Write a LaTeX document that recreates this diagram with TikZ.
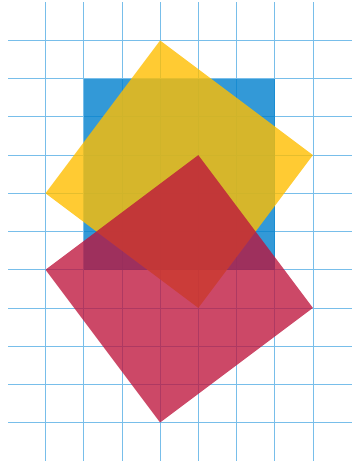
\documentclass[tikz,border=0pt]{standalone}
\definecolor{gridblue}{RGB}{120,190,234}
\definecolor{sqblue}{RGB}{0,128,205}
\definecolor{sqyellow}{RGB}{255,190,0}
\definecolor{sqred}{RGB}{190,20,60}
\tikzset{
  gridline/.style={draw=gridblue, line width=0.8pt},
  bluesq/.style={fill=sqblue, fill opacity=0.8},
  yellowsq/.style={fill=sqyellow, fill opacity=0.8},
  redsq/.style={fill=sqred, fill opacity=0.78}
}
\begin{document}
\begin{tikzpicture}
\useasboundingbox (0pt,0pt) rectangle (356pt,-462pt);
\begin{scope}[shift={(45.5pt,-40.5pt)}, x=38.2pt, y=-38.2pt]
  \foreach \i in {0,...,7} \draw[gridline] (\i,-1.0) -- (\i,11.0);
  \foreach \j in {0,...,10} \draw[gridline] (-0.98,\j) -- (8.02,\j);
  \fill[bluesq] (1,1) rectangle (6,6);
  \fill[yellowsq] (3,0) -- (7,3) -- (4,7) -- (0,4) -- cycle;
  \fill[redsq] (4,3) -- (7,7) -- (3,10) -- (0,6) -- cycle;
\end{scope}
\end{tikzpicture}
\end{document}
